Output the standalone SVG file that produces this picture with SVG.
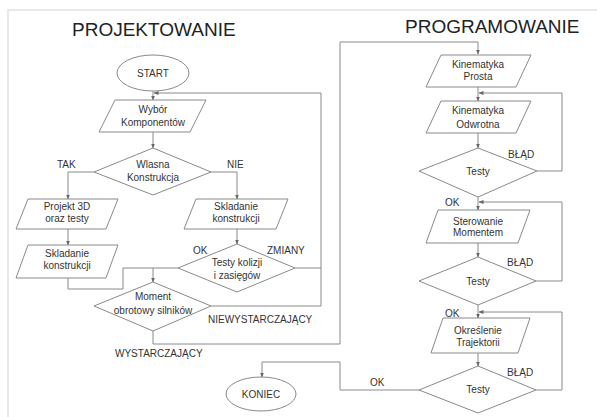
<svg xmlns="http://www.w3.org/2000/svg" width="597" height="417" viewBox="0 0 597 417">
<defs>
<marker id="ah" viewBox="0 0 10 10" refX="9" refY="5" markerWidth="5" markerHeight="5" orient="auto">
<path d="M0,1 L10,5 L0,9 z" fill="#666"/>
</marker>
<style>
.shape{fill:#fff;stroke:#8a8a8a;stroke-width:1}
.conn{fill:none;stroke:#8a8a8a;stroke-width:1}
.arr{marker-end:url(#ah)}
text{font-family:"Liberation Sans",Arial,sans-serif;fill:#333}
.t{font-size:10px;text-anchor:middle}
.lbl{font-size:10px}
.title{font-size:19px;fill:#222}
</style>
</defs>
<rect x="0" y="0" width="597" height="417" fill="#fff"/>
<path d="M8,417 V10 H597" fill="none" stroke="#e2e2e2" stroke-width="1.5"/>
<text class="title" x="72" y="36">PROJEKTOWANIE</text>
<text class="title" x="405" y="33">PROGRAMOWANIE</text>

<g id="connectors">
<path class="conn arr" d="M153,91 V100"/>
<path class="conn arr" d="M153,132 V148"/>
<path class="conn arr" d="M94,172 H68 V199"/>
<path class="conn arr" d="M211,172 H237 V199"/>
<path class="conn arr" d="M68,229 V245"/>
<path class="conn arr" d="M237,229 V244"/>
<path class="conn" d="M178,268 H123 V289 H68 V278"/>
<path class="conn arr" d="M153,268 V282"/>
<path class="conn" d="M295,268 H321"/>
<path class="conn arr" d="M211,306 H321 V93 H154"/>
<path class="conn arr" d="M153,331 V344 H340 V42 H478 V54"/>
<path class="conn arr" d="M478,87 V101"/>
<path class="conn arr" d="M478,133 V148"/>
<path class="conn arr" d="M537,171 H562 V93 H479"/>
<path class="conn arr" d="M478,197 V210"/>
<path class="conn arr" d="M478,243 V257"/>
<path class="conn arr" d="M536,281 H562 V202 H479"/>
<path class="conn arr" d="M478,305 V318"/>
<path class="conn arr" d="M478,353 V366"/>
<path class="conn arr" d="M536,390 H562 V312 H479"/>
<path class="conn arr" d="M419,390 H340 V362 H262 V377"/>
</g>

<g id="start"><ellipse class="shape" cx="153" cy="73" rx="36" ry="18"/><text class="t" x="153" y="77">START</text></g>
<g id="wybor"><polygon class="shape" points="115,100 206,100 190,132 99,132"/><text class="t" x="153" y="113">Wybór</text><text class="t" x="153" y="126">Komponentów</text></g>
<g id="wlasna"><polygon class="shape" points="153,148 211,172 153,195 94,172"/><text class="t" x="153" y="168">Wlasna</text><text class="t" x="153" y="181">Konstrukcja</text></g>
<g id="projekt3d"><polygon class="shape" points="28,199 118,199 106,229 16,229"/><text class="t" x="67" y="210">Projekt 3D</text><text class="t" x="67" y="222">oraz testy</text></g>
<g id="skladanie-left"><polygon class="shape" points="28,245 118,245 106,278 16,278"/><text class="t" x="67" y="257">Skladanie</text><text class="t" x="67" y="269">konstrukcji</text></g>
<g id="skladanie-right"><polygon class="shape" points="196,199 288,199 276,229 184,229"/><text class="t" x="236" y="210">Skladanie</text><text class="t" x="236" y="222">konstrukcji</text></g>
<g id="testy-kolizji"><polygon class="shape" points="237,244 295,268 237,292 178,268"/><text class="t" x="237" y="266">Testy kolizji</text><text class="t" x="237" y="279">i zasięgów</text></g>
<g id="moment"><polygon class="shape" points="153,282 211,306 153,331 94,306"/><text class="t" x="153" y="300">Moment</text><text class="t" x="153" y="314">obrotowy silników</text></g>
<g id="koniec"><ellipse class="shape" cx="261" cy="394" rx="35" ry="17"/><text class="t" x="261" y="398">KONIEC</text></g>

<g id="kin-prosta"><polygon class="shape" points="441,55 531,55 516,87 426,87"/><text class="t" x="478" y="68">Kinematyka</text><text class="t" x="478" y="80">Prosta</text></g>
<g id="kin-odwrotna"><polygon class="shape" points="441,101 531,101 516,133 426,133"/><text class="t" x="478" y="114">Kinematyka</text><text class="t" x="478" y="128">Odwrotna</text></g>
<g id="testy1"><polygon class="shape" points="478,148 537,171 478,197 419,171"/><text class="t" x="478" y="175">Testy</text></g>
<g id="sterowanie"><polygon class="shape" points="438,210 530,210 518,243 426,243"/><text class="t" x="478" y="225">Sterowanie</text><text class="t" x="478" y="236">Momentem</text></g>
<g id="testy2"><polygon class="shape" points="478,257 536,281 478,305 419,281"/><text class="t" x="478" y="285">Testy</text></g>
<g id="okreslenie"><polygon class="shape" points="443,318 530,318 518,353 431,353"/><text class="t" x="478" y="334">Określenie</text><text class="t" x="478" y="346">Trajektorii</text></g>
<g id="testy3"><polygon class="shape" points="478,366 536,390 478,413 419,390"/><text class="t" x="478" y="393">Testy</text></g>

<g id="labels">
<text class="lbl" x="57" y="168">TAK</text>
<text class="lbl" x="227" y="168">NIE</text>
<text class="lbl" x="193" y="254">OK</text>
<text class="lbl" x="267" y="254">ZMIANY</text>
<text class="lbl" x="208" y="323">NIEWYSTARCZAJĄCY</text>
<text class="lbl" x="115" y="357">WYSTARCZAJĄCY</text>
<text class="lbl" x="370" y="386">OK</text>
<text class="lbl" x="508" y="158">BŁĄD</text>
<text class="lbl" x="445" y="206">OK</text>
<text class="lbl" x="507" y="266">BŁĄD</text>
<text class="lbl" x="445" y="317">OK</text>
<text class="lbl" x="507" y="376">BŁĄD</text>
</g>
</svg>
